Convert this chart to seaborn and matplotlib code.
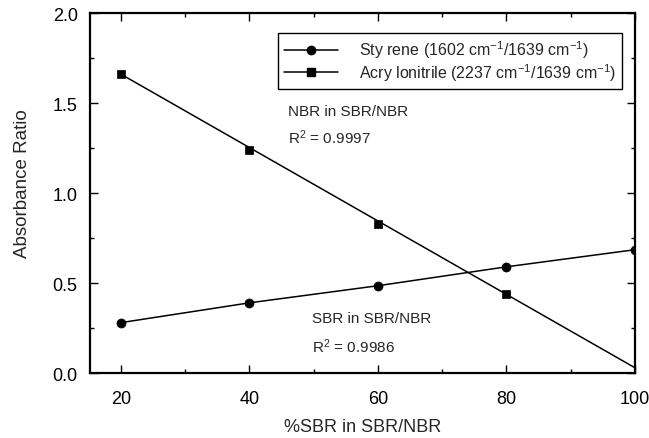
import numpy as np
import pandas as pd
import seaborn as sns
import matplotlib
matplotlib.use("Agg")
import matplotlib.pyplot as plt
from matplotlib.ticker import MultipleLocator
from matplotlib.lines import Line2D

# values
sbr_pct = [20, 40, 60, 80, 100]
styrene_ratio = [0.28, 0.39, 0.485, 0.59, 0.685]

acry_pct = [20, 40, 60, 80]
acry_ratio = [1.66, 1.24, 0.83, 0.44]
# fitted line for acrylonitrile runs out to 100 %
acry_fit_pct = [20, 100]
acry_fit_ratio = [1.66, 0.03]

x_ticks = [20, 40, 60, 80, 100]
y_ticks = [0.0, 0.5, 1.0, 1.5, 2.0]

sns.set_style("ticks")
plt.rcParams['font.family'] = ['Liberation Sans', 'DejaVu Sans']
plt.rcParams['mathtext.fontset'] = 'custom'
plt.rcParams['mathtext.rm'] = 'Liberation Sans'
plt.rcParams['mathtext.it'] = 'Liberation Sans'

fig = plt.figure(figsize=(6.49, 4.39), dpi=100)
ax = fig.add_axes([0.139, 0.148, 0.839, 0.820])

sty = pd.DataFrame({"pct": sbr_pct, "ratio": styrene_ratio})
acr = pd.DataFrame({"pct": acry_pct, "ratio": acry_ratio})
fit = pd.DataFrame({"pct": acry_fit_pct, "ratio": acry_fit_ratio})

sns.lineplot(data=sty, x="pct", y="ratio", color="black", lw=1.1, ax=ax)
sns.scatterplot(data=sty, x="pct", y="ratio", color="black", marker="o",
                s=42, edgecolor="black", ax=ax, zorder=3)
sns.lineplot(data=fit, x="pct", y="ratio", color="black", lw=1.1, ax=ax)
sns.scatterplot(data=acr, x="pct", y="ratio", color="black", marker="s",
                s=40, edgecolor="black", ax=ax, zorder=3)

ax.set_xlim(15.2, 100)
ax.set_ylim(0, 2.0)
ax.set_xticks(x_ticks)
ax.set_yticks(y_ticks)
ax.set_yticklabels([f"{v:.1f}" for v in y_ticks])
ax.xaxis.set_minor_locator(MultipleLocator(10))
ax.yaxis.set_minor_locator(MultipleLocator(0.25))
ax.tick_params(which="both", direction="in", top=True, right=True,
               labelsize=13, width=1.0, colors="black")
ax.tick_params(which="major", length=6)
ax.tick_params(axis="x", which="major", pad=12)
ax.tick_params(axis="y", which="major", pad=9)
ax.tick_params(which="minor", length=3)
for s in ax.spines.values():
    s.set_linewidth(1.6)
    s.set_color("black")

ax.set_xlabel("%SBR in SBR/NBR", fontsize=13, labelpad=8)
ax.set_ylabel("Absorbance Ratio", fontsize=13.5)
ax.yaxis.set_label_coords(-0.109, 0.528)

ax.text(46.0, 1.456, "NBR in SBR/NBR", fontsize=11, va="center")
ax.text(46.0, 1.311, "R$^{2}$ = 0.9997", fontsize=11, va="center")
ax.text(49.7, 0.306, "SBR in SBR/NBR", fontsize=11, va="center")
ax.text(49.7, 0.150, "R$^{2}$ = 0.9986", fontsize=11, va="center")

handles = [
    Line2D([], [], color="black", lw=1.1, marker="o", markersize=6),
    Line2D([], [], color="black", lw=1.1, marker="s", markersize=5.5),
]
labels = [
    "Sty rene (1602 cm$^{-1}$/1639 cm$^{-1}$)",
    "Acry lonitrile (2237 cm$^{-1}$/1639 cm$^{-1}$)",
]
leg = ax.legend(handles, labels, loc="upper right",
                bbox_to_anchor=(0.976, 0.944), fontsize=11.5,
                handlelength=3.4, frameon=True, fancybox=False,
                borderpad=0.35, labelspacing=0.05, handletextpad=1.3,
                borderaxespad=0)
leg.get_frame().set_edgecolor("black")
leg.get_frame().set_linewidth(1.0)
leg.get_frame().set_alpha(1)

fig.savefig("out.png", dpi=100)
